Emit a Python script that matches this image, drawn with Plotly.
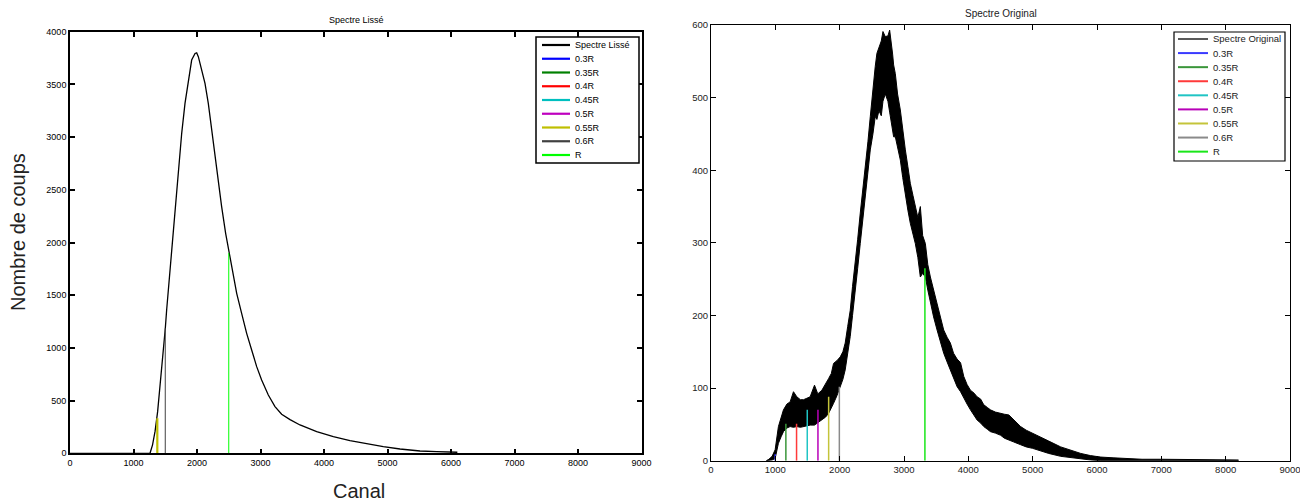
import plotly.graph_objects as go

# page is 1308x502; the html body adds an 8 px margin, so the figure is 1300x494
OFF = 8
W, H = 1300, 494

# ---------------- data: smoothed spectrum (left) ----------------
lisse_canal = [0, 1260, 1300, 1340, 1380, 1417, 1470, 1501, 1522, 1560, 1601, 1654, 1706,
               1759, 1811, 1864, 1916, 1969, 1995, 2021, 2073, 2126, 2178, 2231, 2283,
               2336, 2388, 2451, 2509, 2572, 2625, 2703, 2782, 2861, 2940, 3018, 3123,
               3228, 3333, 3465, 3622, 3885, 4147, 4409, 4672, 4934, 5197, 5512, 5774, 6100]
lisse_coups = [0, 0, 80, 210, 395, 632, 949, 1186, 1360, 1620, 1897, 2308, 2688,
               3036, 3320, 3541, 3731, 3794, 3800, 3763, 3636, 3510, 3320, 3067, 2846,
               2593, 2340, 2087, 1900, 1676, 1518, 1328, 1138, 980, 822, 696, 553,
               443, 370, 320, 269, 205, 158, 120, 88, 63, 41, 22, 15, 10]

# ---------------- data: original spectrum (right), noise envelope ----------------
orig_canal = [860, 900, 950, 997, 1048, 1090, 1126, 1180, 1230, 1282, 1334, 1390, 1438, 1490,
              1541, 1609, 1660, 1723, 1780, 1827, 1870, 1905, 1960, 2009, 2050, 2086, 2125,
              2164, 2200, 2242, 2280, 2320, 2360, 2398, 2440, 2476, 2517, 2553, 2579, 2610,
              2647, 2673, 2709, 2750, 2777, 2823, 2839, 2865, 2900, 2943, 2980, 3021, 3060,
              3098, 3140, 3176, 3215, 3254, 3290, 3332, 3370, 3410, 3460, 3514, 3560, 3617,
              3670, 3721, 3770, 3825, 3879, 3929, 3980, 4033, 4090, 4136, 4190, 4240, 4300,
              4344, 4420, 4502, 4560, 4630, 4700, 4813, 4900, 5000, 5125, 5250, 5436, 5600,
              5748, 5900, 6059, 6250, 6474, 6700, 6993, 7300, 7600, 8031, 8200]
orig_haut = [0, 2, 6, 15, 47, 60, 70, 78, 81, 95, 88, 84, 84, 86,
             88, 104, 92, 97, 105, 113, 120, 134, 138, 143, 150, 162, 185,
             207, 240, 272, 305, 341, 372, 405, 440, 474, 515, 543, 561, 568,
             578, 591, 584, 585, 593, 560, 545, 533, 505, 483, 455, 428, 405,
             382, 365, 350, 335, 350, 310, 299, 270, 253, 235, 217, 200, 180,
             170, 162, 148, 140, 135, 116, 105, 97, 93, 88, 85, 77, 73,
             70, 67, 65, 64, 63, 57, 47, 42, 38, 33, 27, 19, 14,
             10, 7, 5, 4, 3, 2, 2, 2, 2, 2, 1]
orig_bas = [0, 0, 1, 3, 24, 33, 40, 45, 47, 46, 47, 46, 47, 48,
            49, 49, 52, 56, 60, 65, 72, 79, 90, 102, 112, 125, 148,
            171, 200, 230, 265, 299, 330, 359, 395, 428, 450, 474, 470, 482,
            475, 495, 505, 495, 480, 455, 446, 446, 430, 414, 390, 364, 345,
            327, 312, 299, 280, 253, 258, 253, 235, 217, 198, 180, 165, 148,
            136, 125, 113, 102, 95, 86, 78, 70, 63, 56, 52, 47, 43,
            40, 38, 35, 31, 28, 26, 22, 19, 17, 13, 10, 6, 4,
            2, 1, 0, 0, 0, 0, 0, 0, 0, 0, 0]

# ---------------- data: R fraction markers ----------------
frac_noms = ["0.3R", "0.35R", "0.4R", "0.45R", "0.5R", "0.55R", "0.6R", "R"]
frac_valeurs = [0.3, 0.35, 0.4, 0.45, 0.5, 0.55, 0.6, 1.0]
R_lisse = 2500
R_orig = 3325
hauteurs_lisse = [0, 0, 0, 0, 0, 332, 1186, 1900]
hauteurs_orig = [9, 51, 51, 70, 70, 88, 102, 265]

couleurs_g = ["#0000ff", "#008000", "#ff0000", "#00bfbf", "#bf00bf", "#bfbf00", "#404040", "#00ff00"]
couleurs_d = ["#3a3aff", "#3a963a", "#ff3a3a", "#20c4c4", "#b800b8", "#c4c43a", "#8a8a8a", "#19e619"]
largeurs_g = [2, 2, 2, 2, 2, 2.2, 1, 1]

x_ticks = list(range(0, 9001, 1000))

fig = go.Figure()

# Left plot
fig.add_trace(go.Scatter(x=lisse_canal, y=lisse_coups, mode="lines",
                         line=dict(color="black", width=1.3), name="Spectre Lissé",
                         xaxis="x", yaxis="y"))
for nom, f, h, c, w in zip(frac_noms, frac_valeurs, hauteurs_lisse, couleurs_g, largeurs_g):
    fig.add_trace(go.Scatter(x=[f * R_lisse, f * R_lisse], y=[0, h], mode="lines",
                             line=dict(color=c, width=w), name=nom, xaxis="x", yaxis="y"))

# Right plot: noisy band between envelopes
fig.add_trace(go.Scatter(x=orig_canal, y=orig_bas, mode="lines",
                         line=dict(color="black", width=1), name="Spectre Original",
                         xaxis="x2", yaxis="y2"))
fig.add_trace(go.Scatter(x=orig_canal, y=orig_haut, mode="lines", fill="tonexty",
                         fillcolor="black", line=dict(color="black", width=1),
                         name="Spectre Original (bruit)", xaxis="x2", yaxis="y2"))
for nom, f, h, c in zip(frac_noms, frac_valeurs, hauteurs_orig, couleurs_d):
    fig.add_trace(go.Scatter(x=[f * R_orig, f * R_orig], y=[0, h], mode="lines",
                             line=dict(color=c, width=1.5), name=nom, xaxis="x2", yaxis="y2"))


def px(x):
    return (x - OFF) / W


def py(y):
    return 1 - (y - OFF) / H


ax_common = dict(showgrid=False, zeroline=False, showline=True, linecolor="black",
                 mirror="ticks", ticks="inside", ticklen=5, tickcolor="black",
                 automargin=False)

fig.update_layout(
    width=W, height=H, margin=dict(l=0, r=0, t=0, b=0),
    paper_bgcolor="white", plot_bgcolor="white", showlegend=False,
    font=dict(family="Liberation Sans, Arial, sans-serif", color="black"),
    xaxis=dict(domain=[px(70), px(641.5)], range=[0, 9000], tickvals=x_ticks,
               anchor="y", linewidth=1.6, tickwidth=1.5,
               tickfont=dict(size=9, color="black"), **ax_common),
    yaxis=dict(domain=[py(453.3), py(31.7)], range=[0, 4000], dtick=500,
               anchor="x", linewidth=1.6, tickwidth=1.5,
               tickfont=dict(size=9, color="black"), **ax_common),
    xaxis2=dict(domain=[px(711), px(1290)], range=[0, 9000], tickvals=x_ticks,
                anchor="y2", linewidth=1.2, tickwidth=1,
                tickfont=dict(size=9.5, color="#222222"), **ax_common),
    yaxis2=dict(domain=[py(460.7), py(25)], range=[0, 600], dtick=100,
                anchor="x2", linewidth=1.2, tickwidth=1,
                tickfont=dict(size=9.5, color="#222222"), **ax_common),
)

annotations = [
    dict(text="Spectre Lissé", x=px(356), y=py(20), font=dict(size=9)),
    dict(text="Spectre Original", x=px(1001), y=py(13), font=dict(size=10, color="#222222")),
    dict(text="Nombre de coups", x=px(18), y=py(232), textangle=-90,
         font=dict(size=20, color="#222222")),
    dict(text="Canal", x=px(359), y=py(491), font=dict(size=20, color="#222222")),
]
for a in annotations:
    a.update(xref="paper", yref="paper", showarrow=False, xanchor="center", yanchor="middle")

shapes = []
# Left legend
shapes.append(dict(type="rect", xref="paper", yref="paper", x0=px(536), x1=px(639),
                   y0=py(163), y1=py(37), fillcolor="white", line=dict(color="black", width=1.5)))
noms_g = ["Spectre Lissé"] + frac_noms
cols_g = ["black"] + couleurs_g
for i, (n, c) in enumerate(zip(noms_g, cols_g)):
    yy = 45 + i * 13.75
    shapes.append(dict(type="line", xref="paper", yref="paper", x0=px(542), x1=px(570),
                       y0=py(yy), y1=py(yy), line=dict(color=c, width=2.2)))
    annotations.append(dict(text=n, x=px(573), y=py(yy), xref="paper", yref="paper",
                            showarrow=False, xanchor="left", yanchor="middle",
                            font=dict(size=9)))
# Right legend
shapes.append(dict(type="rect", xref="paper", yref="paper", x0=px(1174), x1=px(1285),
                   y0=py(161), y1=py(32), fillcolor="white", line=dict(color="black", width=1.2)))
noms_d = ["Spectre Original"] + frac_noms
cols_d = ["black"] + couleurs_d
for i, (n, c) in enumerate(zip(noms_d, cols_d)):
    yy = 39 + i * 14.08
    shapes.append(dict(type="line", xref="paper", yref="paper", x0=px(1178), x1=px(1208),
                       y0=py(yy), y1=py(yy), line=dict(color=c, width=1.3 if i == 0 else 2)))
    annotations.append(dict(text=n, x=px(1211), y=py(yy), xref="paper", yref="paper",
                            showarrow=False, xanchor="left", yanchor="middle",
                            font=dict(size=9.5, color="#222222")))

fig.update_layout(annotations=annotations, shapes=shapes)
fig.write_html("out.html")
